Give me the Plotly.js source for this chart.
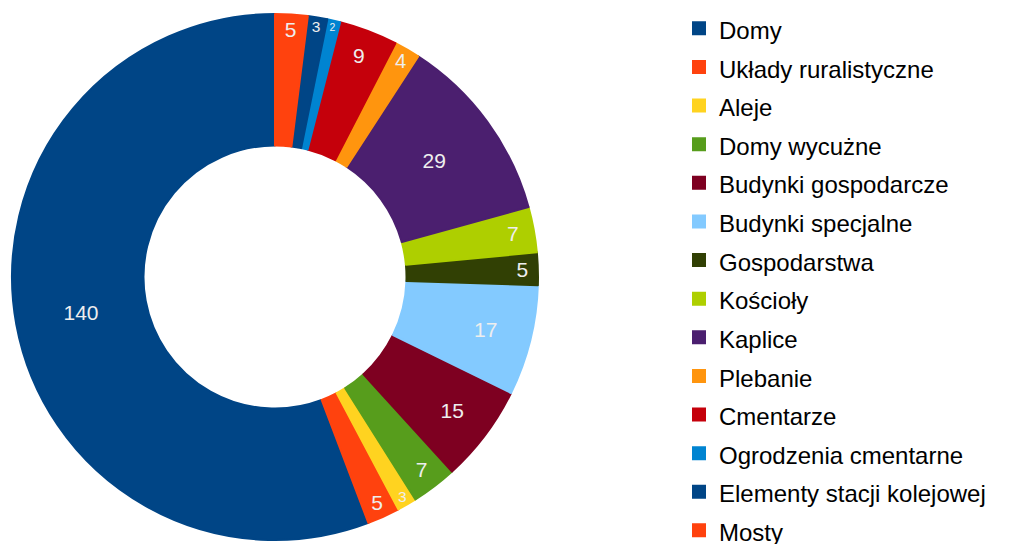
<!DOCTYPE html>
<html>
<head>
<meta charset="utf-8">
<script src="https://cdn.plot.ly/plotly-3.0.1.min.js"></script>
<style>
  html, body { margin: 0; padding: 0; overflow: hidden; background: #ffffff; }
  #chart { width: 1012px; height: 560px; }
</style>
</head>
<body>
<div id="chart"></div>
<script>
const categories = [
  "Domy",
  "Układy ruralistyczne",
  "Aleje",
  "Domy wycużne",
  "Budynki gospodarcze",
  "Budynki specjalne",
  "Gospodarstwa",
  "Kościoły",
  "Kaplice",
  "Plebanie",
  "Cmentarze",
  "Ogrodzenia cmentarne",
  "Elementy stacji kolejowej",
  "Mosty"
];
const values = [140, 5, 3, 7, 15, 17, 5, 7, 29, 4, 9, 2, 3, 5];
const colors = [
  "#004586", "#ff420e", "#ffd320", "#579d1c", "#7e0021", "#83caff", "#314004",
  "#aecf00", "#4b1f6f", "#ff950e", "#c5000b", "#0084d1", "#004586", "#ff420e"
];

const legendLabels = categories.map(c => '<span style="font-size:24px">' + c + '</span>');

// first slice starts at 12 o'clock and runs counterclockwise
const total = values.reduce((a, b) => a + b, 0);
const startRotation = 360 - values[0] / total * 360;

const trace = {
  type: "pie",
  labels: legendLabels,
  values: values,
  sort: false,
  direction: "counterclockwise",
  rotation: startRotation,
  hole: 0.5,
  marker: { colors: colors, line: { width: 2, color: colors } },
  textinfo: "value",
  textposition: "inside",
  insidetextorientation: "horizontal",
  textfont: { family: "Liberation Sans, Arial, sans-serif", size: 21, color: "#eeeeee" },
  domain: { x: [12 / 1012, 538 / 1012], y: [20 / 560, 546 / 560] },
  hoverinfo: "label+value"
};

const layout = {
  width: 1012,
  height: 560,
  margin: { l: 0, r: 0, t: 0, b: 0, pad: 0, autoexpand: false },
  paper_bgcolor: "#ffffff",
  plot_bgcolor: "#ffffff",
  showlegend: true,
  legend: {
    x: 679 / 1012,
    xanchor: "left",
    y: 1 - 4 / 560,
    yanchor: "top",
    font: { family: "Liberation Sans, Arial, sans-serif", size: 27.4, color: "#000000" },
    bgcolor: "rgba(0,0,0,0)",
    borderwidth: 0,
    traceorder: "normal"
  },
  font: { family: "Liberation Sans, Arial, sans-serif" }
};

Plotly.newPlot("chart", [trace], layout, { displayModeBar: false, staticPlot: true });
</script>
</body>
</html>
